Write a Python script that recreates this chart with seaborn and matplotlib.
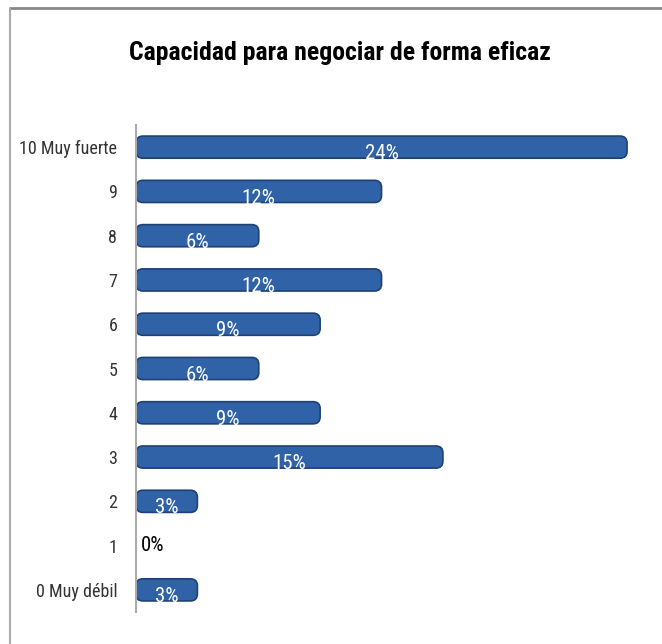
import matplotlib
matplotlib.use('Agg')
import matplotlib.pyplot as plt
import seaborn as sns
import pandas as pd
from matplotlib.lines import Line2D
from matplotlib.patches import FancyBboxPatch

# datos
categorias = ['10 Muy fuerte', '9', '8', '7', '6', '5', '4', '3', '2', '1', '0 Muy débil']
porcentajes = [24, 12, 6, 12, 9, 6, 9, 15, 3, 0, 3]
titulo = 'Capacidad para negociar de forma eficaz'

df = pd.DataFrame({'categoria': categorias, 'pct': porcentajes})

sns.set_style('white')
plt.rcParams['font.family'] = ['Roboto Condensed', 'Roboto', 'DejaVu Sans']

fig = plt.figure(figsize=(6.62, 6.44), dpi=100)
ax = fig.add_axes([136 / 662, 1 - 612 / 644, 511.5 / 662, 487 / 644])

sns.barplot(data=df, x='pct', y='categoria', orient='h', ax=ax,
            color='#2F62A6', edgecolor='#1E4273', linewidth=1.2,
            width=0.5, saturation=1)

ax.set_xlim(0, 25)
ax.set_ylim(10.5, -0.5)

# extremos redondeados de las barras
px_x = 511.5 / 25
px_y = 487 / 11
for p in list(ax.patches):
    w = p.get_width()
    if w <= 0:
        continue
    x, y, h = p.get_x(), p.get_y(), p.get_height()
    r = min(7 / px_x, w / 2)
    fb = FancyBboxPatch((x, y), w, h,
                        boxstyle=f'round,pad=0,rounding_size={r}',
                        mutation_aspect=px_x / px_y,
                        facecolor=p.get_facecolor(), edgecolor='#1E4273',
                        linewidth=1.2, zorder=p.get_zorder())
    p.set_visible(False)
    ax.add_patch(fb)

ax.set_xlabel('')
ax.set_ylabel('')
ax.set_xticks([])
ax.tick_params(axis='y', length=0, pad=13.5, labelsize=13, labelcolor='#333333')
for s in ['top', 'right', 'bottom']:
    ax.spines[s].set_visible(False)
ax.spines['left'].set_color('#aaaaaa')
ax.spines['left'].set_linewidth(1.5)

# etiquetas de datos
for i, v in enumerate(porcentajes):
    if v > 0:
        ax.text(v / 2, i + 0.15, f'{v}%', ha='center', va='center',
                color='white', fontsize=15)
    else:
        ax.text(0.25, i, f'{v}%', ha='left', va='center',
                color='black', fontsize=15)

fig.text(340 / 662, 1 - 53 / 644, titulo, ha='center', va='center',
         fontsize=18.5, fontweight='bold', color='black')

# marco del grafico
fig.add_artist(Line2D([10 / 662, 1], [1 - 8 / 644, 1 - 8 / 644],
                      transform=fig.transFigure, color='#888888', lw=2))
fig.add_artist(Line2D([10 / 662, 10 / 662], [1 - 8 / 644, 0],
                      transform=fig.transFigure, color='#aaaaaa', lw=1.5))

fig.savefig('out.png', dpi=100)
